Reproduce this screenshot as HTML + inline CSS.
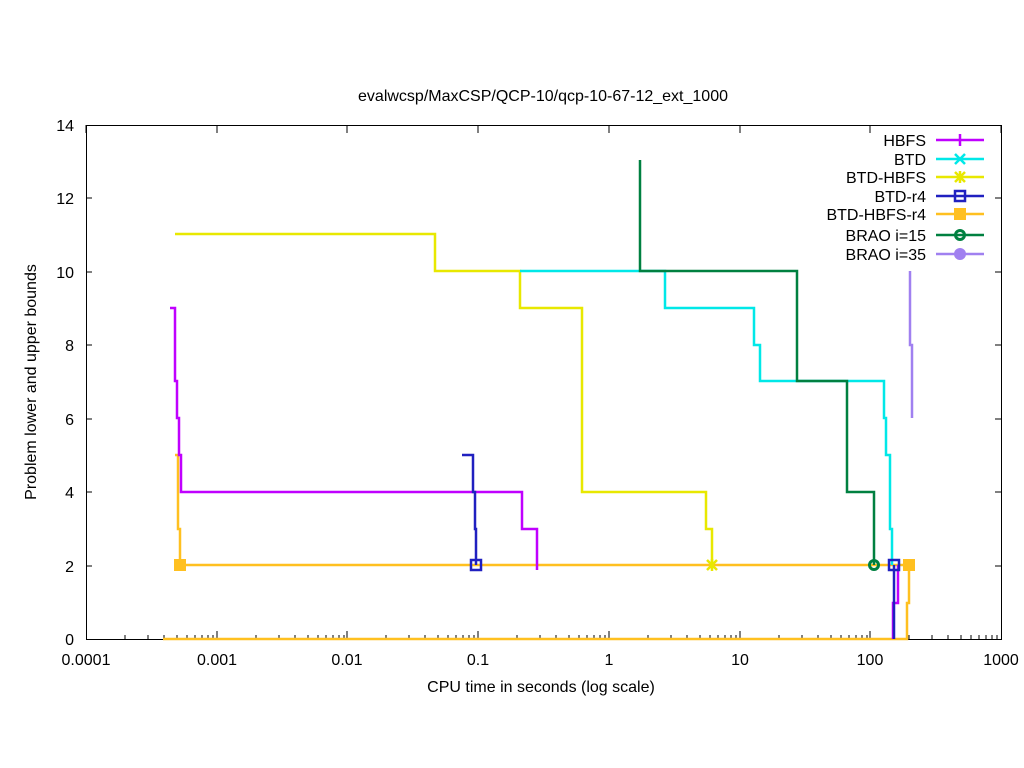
<!DOCTYPE html>
<html><head><style>body{margin:0;background:#fff}svg{display:block}text{font-family:"Liberation Sans",sans-serif;font-size:16px;fill:#000}</style></head><body>
<svg width="1024" height="768" viewBox="0 0 1024 768">
<text x="543" y="101" text-anchor="middle">evalwcsp/MaxCSP/QCP-10/qcp-10-67-12_ext_1000</text>
<g stroke="#000" stroke-width="1" fill="none">
<rect x="86.5" y="125.5" width="915" height="514"/>
<path d="M86 566h6M1001 566h-6M86 492h6M1001 492h-6M86 419h6M1001 419h-6M86 345h6M1001 345h-6M86 272h6M1001 272h-6M86 198h6M1001 198h-6"/>
<path d="M217 639v-8M347 639v-8M478 639v-8M609 639v-8M740 639v-8M870 639v-8M86 125v8M217 125v8M347 125v8M478 125v8M609 125v8M740 125v8M870 125v8M1001 125v8"/>
<path d="M125 639v-4M148 639v-4M164 639v-4M177 639v-4M187 639v-4M195 639v-4M202 639v-4M208 639v-4M213 639v-4
M256 639v-4M279 639v-4M295 639v-4M308 639v-4M318 639v-4M326 639v-4M333 639v-4M339 639v-4M344 639v-4
M386 639v-4M409 639v-4M425 639v-4M438 639v-4M448 639v-4M456 639v-4M463 639v-4M469 639v-4M474 639v-4
M517 639v-4M540 639v-4M556 639v-4M569 639v-4M579 639v-4M587 639v-4M594 639v-4M600 639v-4M605 639v-4
M648 639v-4M671 639v-4M687 639v-4M700 639v-4M710 639v-4M718 639v-4M725 639v-4M731 639v-4M736 639v-4
M779 639v-4M802 639v-4M818 639v-4M831 639v-4M841 639v-4M849 639v-4M856 639v-4M862 639v-4M867 639v-4
M909 639v-4M932 639v-4M948 639v-4M961 639v-4M971 639v-4M979 639v-4M986 639v-4M992 639v-4M997 639v-4"/>
</g>
<g text-anchor="end">
<text x="74" y="645">0</text><text x="74" y="572">2</text><text x="74" y="498">4</text><text x="74" y="425">6</text><text x="74" y="351">8</text><text x="74" y="278">10</text><text x="74" y="204">12</text><text x="74" y="131">14</text>
</g>
<g text-anchor="middle">
<text x="86" y="665">0.0001</text><text x="217" y="665">0.001</text><text x="347" y="665">0.01</text><text x="478" y="665">0.1</text><text x="609" y="665">1</text><text x="740" y="665">10</text><text x="870" y="665">100</text><text x="1001" y="665">1000</text>
<text x="541" y="692">CPU time in seconds (log scale)</text>
</g>
<text transform="translate(36,382) rotate(-90)" text-anchor="middle">Problem lower and upper bounds</text>
<g fill="none" stroke-width="2.5">
<polyline stroke="#ffc020" points="163,639 907,639 907,603 909,603 909,565 180,565 180,529 178,529 178,455 175,455"/>
<polyline stroke="#e8e800" points="175,234 435,234 435,271 520,271 520,308 582,308 582,492 706,492 706,529 712,529 712,565"/>
<polyline stroke="#00e8e8" points="520,271 665,271 665,308 754,308 754,345 760,345 760,381 884,381 884,418 886,418 886,455 890,455 890,529 892,529 892,565"/>
<polyline stroke="#008040" points="640,160 640,271 797,271 797,381 847,381 847,492 874,492 874,565"/>
<polyline stroke="#a080f0" points="910,271 910,345 912,345 912,418"/>
<polyline stroke="#c000ff" points="170,308 175,308 175,381 177,381 177,418 179,418 179,455 181,455 181,492 522,492 522,529 537,529 537,570"/>
<polyline stroke="#c000ff" points="893,639 893,603 898,603 898,565"/>
<polyline stroke="#2020c0" points="462,455 473,455 473,492 475,492 475,529 476,529 476,565"/>
<polyline stroke="#2020c0" points="894,565 894,639"/>
</g>
<g stroke-width="2.5">
<rect x="471" y="560" width="10" height="10" fill="none" stroke="#2020c0"/>
<rect x="889" y="560" width="10" height="10" fill="none" stroke="#2020c0"/>
<rect x="174" y="559" width="12" height="12" fill="#ffc020"/>
<rect x="903" y="559" width="12" height="12" fill="#ffc020"/>
<circle cx="874" cy="565" r="4.5" fill="none" stroke="#008040" stroke-width="3"/>
<path d="M707 560l10 10M717 560l-10 10M712 559v12" stroke="#e8e800"/>
</g>
<g text-anchor="end">
<text x="926" y="146">HBFS</text><text x="926" y="165">BTD</text><text x="926" y="183">BTD-HBFS</text><text x="926" y="202">BTD-r4</text><text x="926" y="220">BTD-HBFS-r4</text><text x="926" y="241">BRAO i=15</text><text x="926" y="260">BRAO i=35</text>
</g>
<g stroke-width="2.5" fill="none">
<path d="M936 140h48M960 134v12" stroke="#c000ff"/>
<path d="M936 159h48M955 154l10 10M965 154l-10 10" stroke="#00e8e8"/>
<path d="M936 177h48M955 172l10 10M965 172l-10 10M960 171v12" stroke="#e8e800"/>
<path d="M936 196h48" stroke="#2020c0"/><rect x="955" y="191" width="10" height="10" stroke="#2020c0"/>
<path d="M936 214h48" stroke="#ffc020"/><rect x="954" y="208" width="12" height="12" fill="#ffc020" stroke="none"/>
<path d="M936 235h48" stroke="#008040"/><circle cx="960" cy="235" r="4.5" stroke="#008040" stroke-width="3"/>
<path d="M936 254h48" stroke="#a080f0"/><circle cx="960" cy="254" r="6" fill="#a080f0" stroke="none"/>
</g>
</svg>
</body></html>
